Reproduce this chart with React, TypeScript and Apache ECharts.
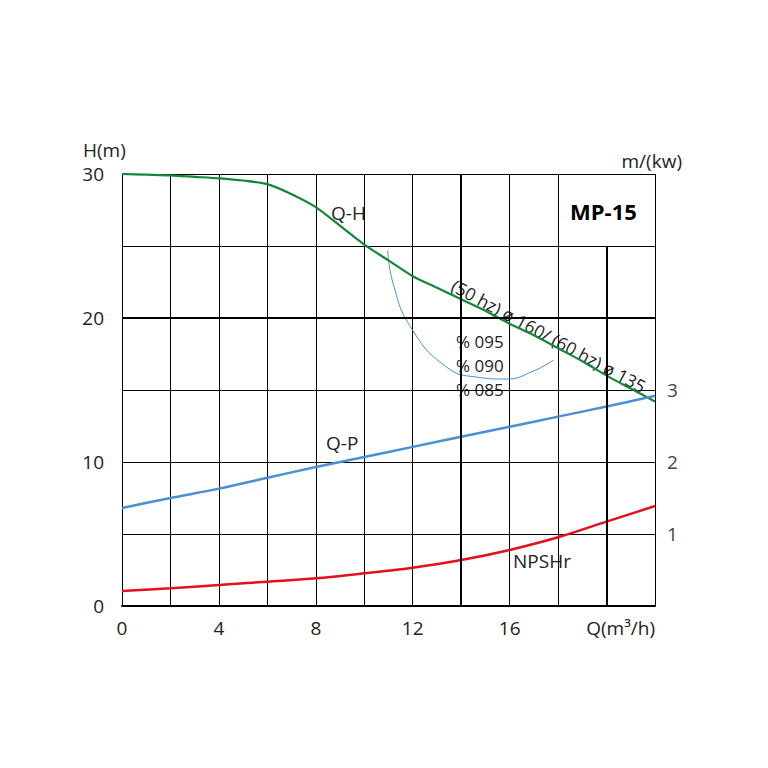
import { useEffect, useRef } from 'react'
import * as echarts from 'echarts'

// caudal Q (m3/h)
const flow = [0, 1, 2, 3, 4, 5, 6, 7, 8, 9, 10, 11, 12, 13, 14, 15, 16, 17, 18, 19, 20, 21, 22]
// Q-H, altura (m)
const head = [30, 29.95, 29.9, 29.8, 29.7, 29.55, 29.3, 28.6, 27.7, 26.4, 25.1, 24.0, 22.9, 22.1, 21.3, 20.5, 19.6, 18.8, 17.9, 17.0, 16.0, 15.1, 14.2]
// Q-P, potencia (kw), eje derecho
const powerQ = [0, 2, 4, 6, 8, 10, 12, 14, 16, 18, 20, 22]
const power = [1.36, 1.5, 1.63, 1.78, 1.93, 2.07, 2.21, 2.35, 2.49, 2.63, 2.77, 2.92]
// NPSHr (m)
const npshQ = [0, 2, 4, 6, 8, 10, 12, 14, 16, 18, 20, 22]
const npsh = [1.04, 1.23, 1.46, 1.69, 1.92, 2.27, 2.66, 3.19, 3.89, 4.77, 5.86, 6.94]
// curva de rendimiento
const effQ = [10.97, 11.19, 11.94, 13.39, 14.62, 15.86, 16.96, 17.81]
const effH = [24.7, 22.4, 19.3, 16.6, 15.9, 15.76, 16.3, 17.08]

const xLabels = [0, 4, 8, 12, 16]
const hLabels = [0, 10, 20, 30]
const pLabels = [1, 2, 3]
const effLabels = ['% 095', '% 090', '% 085']

const FONT = '"Open Sans", sans-serif'
const INK = '#222'

export default function App() {
  const chartRef = useRef<HTMLDivElement>(null)

  useEffect(() => {
    document.body.style.margin = '0'
    if (!chartRef.current) return
    const chart = echarts.init(chartRef.current, undefined, { renderer: 'svg' })

    // la linea x=20 solo llega hasta 25 m, se quita del grid
    const vColors = [0, 2, 4, 6, 8, 10, 12, 14, 16, 18, 20, 22].map(v => (v === 20 ? 'rgba(0,0,0,0)' : '#000'))

    const label = (text: string, x: number, y: number, size = 19, align = 'left', extra = {}) => ({
      type: 'text',
      x,
      y,
      style: { text, fontSize: size, fill: INK, fontFamily: FONT, align, verticalAlign: 'middle', ...extra },
    })

    const option = {
      animation: false,
      textStyle: { fontFamily: FONT, color: INK },
      grid: { left: 122, right: 113, top: 174, bottom: 162 },
      xAxis: {
        type: 'value',
        min: 0,
        max: 22,
        interval: 2,
        axisLine: { show: true, lineStyle: { color: '#000', width: 2 } },
        axisTick: { show: false },
        splitLine: { show: true, lineStyle: { color: vColors, width: 1 } },
        axisLabel: {
          margin: 12,
          fontSize: 19,
          color: INK,
          fontFamily: FONT,
          formatter: (v: number) => (xLabels.includes(v) ? String(v) : ''),
        },
      },
      yAxis: [
        {
          type: 'value',
          min: 0,
          max: 30,
          interval: 5,
          axisLine: { show: false },
          axisTick: { show: false },
          splitLine: { show: true, lineStyle: { color: '#000', width: 1 } },
          axisLabel: {
            margin: 18,
            fontSize: 19,
            color: INK,
            fontFamily: FONT,
            formatter: (v: number) => (hLabels.includes(v) ? String(v) : ''),
          },
        },
        {
          type: 'value',
          min: 0,
          max: 6,
          interval: 1,
          position: 'right',
          axisLine: { show: false },
          axisTick: { show: false },
          splitLine: { show: false },
          axisLabel: {
            margin: 12,
            fontSize: 19,
            color: '#444',
            fontFamily: FONT,
            formatter: (v: number) => (pLabels.includes(v) ? String(v) : ''),
          },
        },
      ],
      series: [
        {
          name: 'grid',
          type: 'line',
          data: [],
          markLine: {
            silent: true,
            symbol: 'none',
            label: { show: false },
            lineStyle: { color: '#000', width: 2, type: 'solid' },
            data: [
              { xAxis: 14 },
              { yAxis: 20 },
              [{ coord: [20, 0] }, { coord: [20, 25] }],
            ],
          },
        },
        {
          name: 'eff',
          type: 'line',
          smooth: true,
          showSymbol: false,
          data: effQ.map((q, i) => [q, effH[i]]),
          lineStyle: { color: '#4a8fd0', width: 1 },
        },
        {
          name: 'Q-H',
          type: 'line',
          smooth: 0.25,
          showSymbol: false,
          data: flow.map((q, i) => [q, head[i]]),
          lineStyle: { color: '#12893a', width: 2.2 },
        },
        {
          name: 'Q-P',
          type: 'line',
          smooth: 0.3,
          showSymbol: false,
          yAxisIndex: 1,
          data: powerQ.map((q, i) => [q, power[i]]),
          lineStyle: { color: '#4a90d0', width: 2.5 },
        },
        {
          name: 'NPSHr',
          type: 'line',
          smooth: 0.3,
          showSymbol: false,
          data: npshQ.map((q, i) => [q, npsh[i]]),
          lineStyle: { color: '#e3101e', width: 2.5 },
        },
      ],
      graphic: [
        label('H(m)', 83, 150),
        label('m/(kw)', 682, 161, 19, 'right'),
        label('Q(m³/h)', 655, 628, 19, 'right'),
        label('MP-15', 570, 211, 22, 'left', { fontWeight: 'bold', fill: '#000' }),
        label('Q-H', 331, 213),
        label('Q-P', 326, 443),
        label('NPSHr', 513, 561),
        ...effLabels.map((t, i) => label(t, 456, 341 + i * 24, 17)),
        {
          type: 'text',
          x: 453,
          y: 284,
          rotation: -0.494,
          style: {
            text: '(50 hz) ø 160/ (60 hz) ø 135',
            fontSize: 17.5,
            fill: INK,
            fontFamily: FONT,
            verticalAlign: 'middle',
          },
        },
      ],
    }

    chart.setOption(option)
    return () => {
      chart.dispose()
    }
  }, [])

  return <div ref={chartRef} style={{ width: '768px', height: '768px' }} />
}
